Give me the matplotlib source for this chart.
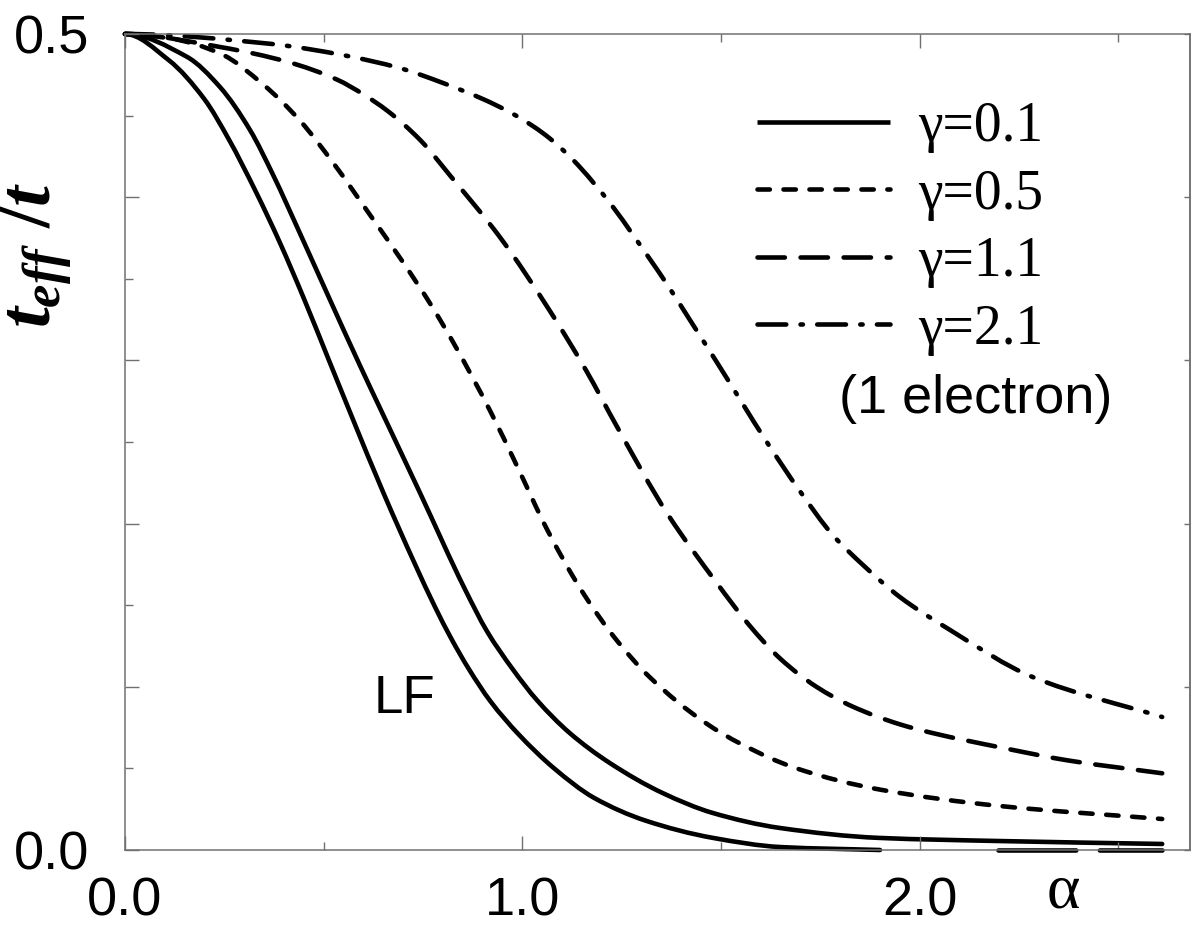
import matplotlib
matplotlib.use("Agg")
from matplotlib import pyplot as plt
from matplotlib.path import Path
from matplotlib.patches import PathPatch
from matplotlib.lines import Line2D
from matplotlib.ticker import MultipleLocator, FixedLocator, FuncFormatter

# t_eff/t versus alpha, LF limit and one-electron curves for several gamma
lf_x = [0.0, 0.11, 0.20, 0.26, 0.33, 0.39, 0.45, 0.51, 0.57, 0.65, 0.73, 0.78,
        0.82, 0.865, 0.92, 0.99, 1.08, 1.18, 1.31, 1.48, 1.65, 1.90]
lf_y = [0.5, 0.484, 0.460, 0.436, 0.403, 0.372, 0.338, 0.302, 0.266, 0.219, 0.175, 0.149,
        0.130, 0.111, 0.091, 0.071, 0.050, 0.032, 0.018, 0.0074, 0.0018, 0.0]
lf_tail_x = [2.196, 2.61]
lf_tail_y = [0.0, 0.0]

g01_x = [0.0, 0.156, 0.239, 0.315, 0.372, 0.44, 0.516, 0.591, 0.649, 0.742, 0.855,
         0.911, 0.975, 1.036, 1.119, 1.22, 1.353, 1.479, 1.648, 1.899, 2.2, 2.61]
g01_y = [0.5, 0.486, 0.4675, 0.441, 0.414, 0.378, 0.337, 0.297, 0.267, 0.219, 0.160,
         0.134, 0.111, 0.092, 0.0717, 0.0533, 0.0349, 0.0227, 0.0135, 0.0074, 0.0055, 0.0037]

g05_x = [0.0, 0.12, 0.24, 0.348, 0.44, 0.524, 0.617, 0.70, 0.77, 0.826, 0.919, 0.987,
         1.063, 1.154, 1.239, 1.32, 1.46, 1.55, 1.69, 1.90, 2.2, 2.61]
g05_y = [0.5, 0.497, 0.488, 0.469, 0.447, 0.421, 0.389, 0.360, 0.334, 0.311, 0.269, 0.235,
         0.196, 0.157, 0.128, 0.106, 0.078, 0.065, 0.050, 0.037, 0.027, 0.019]

g11_x = [0.0, 0.24, 0.408, 0.534, 0.60, 0.66, 0.743, 0.819, 0.945, 1.07, 1.16, 1.239,
         1.365, 1.491, 1.57, 1.65, 1.74, 1.83, 1.95, 2.035, 2.2, 2.37, 2.61]
g11_y = [0.5, 0.492, 0.483, 0.472, 0.463, 0.453, 0.435, 0.413, 0.375, 0.330, 0.294, 0.259,
         0.206, 0.163, 0.138, 0.117, 0.100, 0.088, 0.077, 0.0715, 0.063, 0.055, 0.047]

g21_x = [0.0, 0.365, 0.55, 0.693, 0.80, 0.902, 0.969, 1.03, 1.069, 1.127, 1.228, 1.278,
         1.363, 1.421, 1.489, 1.615, 1.698, 1.781, 1.86, 1.95, 2.075, 2.284, 2.61]
g21_y = [0.5, 0.494, 0.487, 0.479, 0.470, 0.460, 0.452, 0.443, 0.436, 0.423, 0.394, 0.377,
         0.347, 0.325, 0.299, 0.250, 0.220, 0.193, 0.174, 0.155, 0.135, 0.106, 0.0815]

gamma_labels = ["\u03b3=0.1", "\u03b3=0.5", "\u03b3=1.1", "\u03b3=2.1"]


def smooth_path(xs, ys):
    # monotone cubic (pchip-like) segments written as bezier curves
    n = len(xs)
    h = [xs[i + 1] - xs[i] for i in range(n - 1)]
    d = [(ys[i + 1] - ys[i]) / h[i] for i in range(n - 1)]
    m = [0.0] * n
    m[-1] = d[-1]
    for k in range(1, n - 1):
        if d[k - 1] * d[k] <= 0:
            m[k] = 0.0
        else:
            w1 = 2 * h[k] + h[k - 1]
            w2 = h[k] + 2 * h[k - 1]
            m[k] = (w1 + w2) / (w1 / d[k - 1] + w2 / d[k])
    verts = [(xs[0], ys[0])]
    codes = [Path.MOVETO]
    for i in range(n - 1):
        verts += [(xs[i] + h[i] / 3, ys[i] + m[i] * h[i] / 3),
                  (xs[i + 1] - h[i] / 3, ys[i + 1] - m[i + 1] * h[i] / 3),
                  (xs[i + 1], ys[i + 1])]
        codes += [Path.CURVE4] * 3
    return Path(verts, codes)


plt.rcParams['lines.scale_dashes'] = False
plt.rcParams['mathtext.fontset'] = 'custom'
plt.rcParams['mathtext.it'] = 'Liberation Serif:italic:bold'
plt.rcParams['mathtext.rm'] = 'Liberation Serif:bold'

fig = plt.figure(figsize=(11.92, 9.27), dpi=100)
ax = fig.add_axes([125 / 1192, 1 - 850 / 927, 1065 / 1192, 816 / 927])

lw = 3.3
styles = ['-', (0, (8.9, 9.8)), (0, (19.7, 11.3)), (0, (20.7, 10.3, 1.7, 10.3))]
curves = [(g01_x, g01_y), (g05_x, g05_y), (g11_x, g11_y), (g21_x, g21_y)]

ax.add_patch(PathPatch(smooth_path(lf_x, lf_y), facecolor='none', edgecolor='black',
                       lw=lw, capstyle='round', joinstyle='round', clip_on=False))
ax.plot(lf_tail_x, lf_tail_y, color='black', lw=lw, ls=(0, (56, 17)),
        dash_capstyle='round', clip_on=False)

handles = []
for (xs, ys), ls in zip(curves, styles):
    ax.add_patch(PathPatch(smooth_path(xs, ys), facecolor='none', edgecolor='black',
                           lw=lw, ls=ls, capstyle='round', joinstyle='round', clip_on=False))
    handles.append(Line2D([], [], color='black', lw=lw, ls=ls,
                          dash_capstyle='round', solid_capstyle='butt'))

ax.set_xlim(0, 2.68)
ax.set_ylim(0, 0.5)

ax.xaxis.set_major_locator(MultipleLocator(1.0))
ax.xaxis.set_minor_locator(MultipleLocator(0.5))
ax.xaxis.set_major_formatter(FuncFormatter(lambda v, p: "%.1f" % v))
ax.yaxis.set_major_locator(MultipleLocator(0.1))
ax.yaxis.set_minor_locator(MultipleLocator(0.05))
ax.yaxis.set_major_formatter(FuncFormatter(
    lambda v, p: "%.1f" % v if abs(v) < 1e-9 or abs(v - 0.5) < 1e-9 else ""))

gray = '#707070'
for s in ax.spines.values():
    s.set_color(gray)
    s.set_linewidth(1.1)

ax.tick_params(which='both', direction='in', color=gray, width=1.0,
               top=True, bottom=True, left=True, right=False)
ax.tick_params(which='major', length=10)
ax.tick_params(which='minor', length=5.5)
ax.tick_params(axis='x', which='major', pad=19, labelsize=39)
ax.tick_params(axis='y', which='major', pad=26, labelsize=39)
for lab in ax.get_xticklabels() + ax.get_yticklabels():
    lab.set_fontfamily('Liberation Sans')

# right-hand ticks: major only, shorter
sec = ax.secondary_yaxis('right')
sec.yaxis.set_major_locator(MultipleLocator(0.1))
sec.yaxis.set_minor_locator(FixedLocator([]))
sec.tick_params(direction='in', length=4.5, color=gray, width=1.0, labelright=False)
sec.spines['right'].set_color(gray)
sec.spines['right'].set_linewidth(1.1)

ax.set_xlabel("\u03b1", fontfamily='Liberation Serif', fontsize=46)
ax.xaxis.set_label_coords(0.881, -0.016)
ax.xaxis.label.set_va('top')

fig.text(36 / 1192, 1 - 255 / 927, r'$t_{eff}\ /t$', rotation=90,
         ha='center', va='center', fontsize=54)

ax.text(0.625, 0.084, "LF", fontfamily='Liberation Sans', fontsize=38,
        ha='left', va='baseline')
ax.text(2.14, 0.268, "(1 electron)", fontfamily='Liberation Sans', fontsize=39,
        ha='center', va='baseline')

ax.legend(handles, gamma_labels, loc='upper left',
          bbox_to_anchor=(757 / 1192, 1 - 101 / 927), bbox_transform=fig.transFigure,
          frameon=False, borderpad=0, borderaxespad=0, handlelength=2.4,
          handletextpad=0.5, labelspacing=0.28,
          prop={'family': 'Liberation Serif', 'size': 40})

fig.savefig('out.png', dpi=100)
